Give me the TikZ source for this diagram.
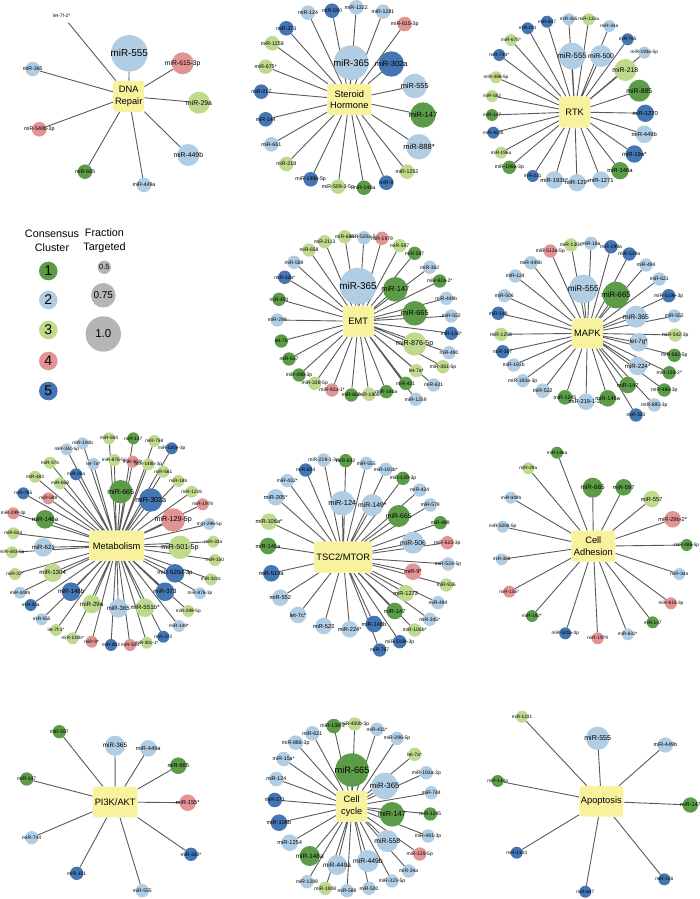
\documentclass[tikz,border=0pt]{standalone}
\usepackage{fontspec}
\setmainfont{Liberation Sans}
\pgfdeclarelayer{bg}
\pgfsetlayers{bg,main}
\definecolor{c1}{HTML}{5C9B48}
\definecolor{c2}{HTML}{B1CDE3}
\definecolor{c3}{HTML}{BFD98D}
\definecolor{c4}{HTML}{E29393}
\definecolor{c5}{HTML}{4376B3}
\definecolor{hubfill}{HTML}{F8F29E}
\definecolor{legray}{HTML}{B5B5B5}
\definecolor{edgec}{HTML}{5A5A5A}
\tikzset{
 mirc/.style={circle, inner sep=0pt, outer sep=0pt, draw=none},
 hubbox/.style={rectangle, rounded corners=3bp, fill=hubfill, inner sep=1bp, align=center, font=\fontsize{9.3bp}{11.5bp}\selectfont},
 conn/.style={draw=edgec, line width=0.9bp},
 hdr/.style={align=center, inner sep=0pt, font=\fontsize{10.8bp}{13.3bp}\selectfont},
}
\newcommand\hubn[6]{\node[hubbox, minimum width=#4bp, minimum height=#5bp] (#1) at (#2,#3) {#6};\def\curhub{#1}\def\edgelist{}}
\newcommand\mi[6]{%
 \pgfmathsetmacro\mifs{0.42*#4+2.2}%
 \pgfmathsetmacro\midiam{2*#4}%
 \node[mirc, fill=#5, minimum size=\midiam bp, font=\fontsize{\mifs bp}{\mifs bp}\selectfont] (#1) at (#2,#3) {\makebox[0pt]{#6}};
 \edef\edgelist{\edgelist (\curhub) -- (#1)}%
}
\newcommand\panelend{%
 \edef\edgecmd{\noexpand\draw[conn] \edgelist;}%
 \begin{pgfonlayer}{bg}\edgecmd\end{pgfonlayer}%
}
\newcommand\lgc[6]{%
 \pgfmathsetmacro\midiam{2*#4}%
 \node[mirc, fill=#5, minimum size=\midiam bp, font=\fontsize{#6bp}{#6bp}\selectfont] (#1) at (#2,#3) {\makebox[0pt]{\lgtext}};
}
\begin{document}
\begin{tikzpicture}[x=1bp,y=-1bp]
\useasboundingbox (0,0) rectangle (700,899);
% ---------- DNA Repair
\hubn{A}{128.7}{96.3}{31}{31}{DNA\\Repair}
\mi{A1}{129.3}{53.3}{18.3}{c2}{miR-555}
\mi{A2}{182.7}{63.3}{11}{c4}{miR-615-3p}
\mi{A3}{32.7}{69}{7.3}{c2}{miR-365}
\mi{A4}{199}{102.7}{11}{c3}{miR-29a}
\mi{A5}{39.3}{129.3}{7.3}{c4}{miR-548b-3p}
\mi{A6}{188.3}{155}{11}{c2}{miR-449b}
\mi{A7}{85}{171.7}{7.3}{c1}{miR-665}
\mi{A8}{144}{185}{7.3}{c2}{miR-449a}
\coordinate (A0) at (68.3,22.7);
\edef\edgelist{\edgelist (A) -- (A0)}
\node[inner sep=0pt, font=\fontsize{4.9bp}{5bp}\selectfont] (A0t) at (61.7,15.7) {let-7f-2*};
\panelend
% ---------- Steroid Hormone
\hubn{B}{349.3}{99.5}{44}{31}{Steroid\\Hormone}
\mi{B1}{308}{12.7}{7.3}{c2}{miR-124}
\mi{B2}{332}{10.7}{7.3}{c5}{miR-590}
\mi{B3}{356.3}{7.3}{7.3}{c2}{miR-1322}
\mi{B4}{383}{11.7}{7.3}{c2}{miR-1281}
\mi{B5}{404.7}{24}{7.3}{c4}{miR-615-3p}
\mi{B6}{286.3}{28.3}{7.3}{c5}{miR-373}
\mi{B7}{272.3}{43.3}{7.3}{c3}{miR-1258}
\mi{B8}{351.3}{62.7}{17.3}{c2}{miR-365}
\mi{B9}{391.3}{64}{12.7}{c5}{miR-302a}
\mi{B10}{265.7}{66.7}{7.3}{c3}{miR-675*}
\mi{B11}{414.7}{86}{12.3}{c2}{miR-555}
\mi{B12}{261.3}{91.7}{7.3}{c5}{miR-217}
\mi{B13}{423}{115}{12.7}{c1}{miR-147}
\mi{B14}{265.7}{119.3}{7.3}{c5}{miR-144}
\mi{B15}{419}{146.7}{12.7}{c2}{miR-888*}
\mi{B16}{271.3}{144.3}{7.3}{c2}{miR-661}
\mi{B17}{286.3}{164}{7.3}{c3}{miR-218}
\mi{B18}{407}{171.7}{7.3}{c3}{miR-1252}
\mi{B19}{310.7}{179.3}{7.3}{c5}{miR-199b-5p}
\mi{B20}{338}{186.7}{7.3}{c3}{miR-509-3-5p}
\mi{B21}{364}{187.7}{7.3}{c1}{miR-146a}
\mi{B22}{386.3}{182.7}{7.3}{c5}{miR-9}
\panelend
% ---------- RTK
\hubn{C}{574.7}{112}{31}{31}{RTK}
\mi{C1}{527.7}{28.3}{6}{c5}{miR-181}
\mi{C2}{547}{21.7}{6}{c5}{miR-647}
\mi{C3}{568.7}{19.3}{6}{c2}{miR-365}
\mi{C4}{588.7}{19.3}{6}{c3}{miR-135a}
\mi{C5}{609.3}{26}{6}{c2}{miR-34a}
\mi{C6}{627.7}{39.3}{6}{c5}{miR-765}
\mi{C7}{644.3}{52.7}{6}{c2}{miR-193a-5p}
\mi{C8}{511}{40}{6}{c3}{miR-675*}
\mi{C9}{499.3}{55}{6}{c5}{miR-744*}
\mi{C10}{572}{56}{13.3}{c2}{miR-555}
\mi{C11}{601}{56}{11}{c2}{miR-500}
\mi{C12}{625.3}{70}{11}{c3}{miR-218}
\mi{C13}{496}{77.3}{6}{c3}{miR-486-5p}
\mi{C14}{639.3}{90.7}{11}{c1}{miR-885}
\mi{C15}{492}{96}{6}{c3}{miR-582}
\mi{C16}{492}{115}{6}{c1}{miR-147}
\mi{C17}{645.3}{113.3}{8.7}{c5}{miR-1270}
\mi{C18}{493.3}{132.7}{6}{c5}{miR-302b}
\mi{C19}{644.3}{134.3}{8.7}{c2}{miR-449b}
\mi{C20}{501}{152.7}{6}{c3}{miR-196a}
\mi{C21}{634.3}{154}{8.7}{c5}{miR-19a*}
\mi{C22}{620}{170.7}{8.7}{c1}{miR-146a}
\mi{C23}{509.3}{167.3}{6.7}{c1}{miR-199a-3p}
\mi{C24}{532.7}{176}{6}{c5}{miR-221}
\mi{C25}{554.3}{180}{8.7}{c2}{miR-193b*}
\mi{C26}{577}{182.7}{8.7}{c2}{miR-129*}
\mi{C27}{601}{180}{8.7}{c2}{miR-1271}
\panelend
% ---------- Legend
\node[hdr] (Lh1) at (52,240.7) {Consensus\\Cluster};
\node[hdr] (Lh2) at (104.5,240.7) {Fraction\\Targeted};
\def\lgtext{1}\lgc{L1}{48.3}{271}{9.3}{c1}{14}
\def\lgtext{2}\lgc{L2}{48.3}{300}{9.3}{c2}{14}
\def\lgtext{3}\lgc{L3}{48.3}{330}{9.3}{c3}{14}
\def\lgtext{4}\lgc{L4}{48.3}{361}{9.3}{c4}{14}
\def\lgtext{5}\lgc{L5}{48.3}{391}{9.3}{c5}{14}
\def\lgtext{0.5}\lgc{G1}{104.3}{267.3}{6.7}{legray}{7.5}
\def\lgtext{0.75}\lgc{G2}{103.3}{295.3}{12.3}{legray}{10}
\def\lgtext{1.0}\lgc{G3}{103.3}{334}{17.7}{legray}{11.5}
% ---------- EMT
\hubn{E}{358.3}{321.3}{31}{31}{EMT}
\mi{E1}{324.7}{241.7}{6.7}{c3}{miR-2113}
\mi{E2}{344.7}{236.7}{6.7}{c3}{miR-659}
\mi{E3}{364}{237.7}{6.7}{c2}{miR-520a-5p}
\mi{E4}{382}{238.3}{6.7}{c4}{miR-1979}
\mi{E5}{399.7}{245.7}{6.7}{c3}{miR-597}
\mi{E6}{309}{250}{6.7}{c3}{miR-658}
\mi{E7}{414.7}{253.3}{6.7}{c1}{miR-587}
\mi{E8}{294}{262.3}{6.7}{c2}{miR-589}
\mi{E9}{429.7}{267.3}{6.7}{c2}{miR-362}
\mi{E10}{284.7}{277.3}{6.7}{c5}{miR-33a*}
\mi{E11}{358}{286}{18.3}{c2}{miR-365}
\mi{E12}{395.3}{289.3}{12.3}{c1}{miR-147}
\mi{E13}{439.7}{281}{6.7}{c1}{miR-92a-2*}
\mi{E14}{279}{299.3}{6.7}{c1}{miR-450}
\mi{E15}{446.3}{298.3}{6.7}{c2}{miR-449b}
\mi{E16}{414.7}{313.3}{12.3}{c1}{miR-665}
\mi{E17}{277.3}{320}{6.7}{c2}{miR-299}
\mi{E18}{451.3}{316}{6.7}{c2}{miR-552}
\mi{E19}{451.3}{333.3}{6.7}{c5}{miR-136*}
\mi{E20}{281.3}{341}{6.7}{c1}{let-7b}
\mi{E21}{414.7}{344}{11.7}{c3}{miR-876-5p}
\mi{E22}{449}{352.7}{6.7}{c2}{miR-490}
\mi{E23}{289}{359}{6.7}{c1}{miR-617}
\mi{E24}{416.3}{370.7}{6.7}{c3}{let-7a*}
\mi{E25}{443}{366.7}{6.7}{c3}{miR-361-5p}
\mi{E26}{299}{375}{6.7}{c1}{miR-486-3p}
\mi{E27}{314.7}{383.3}{6.7}{c3}{miR-338-5p}
\mi{E28}{405.7}{383.3}{6.7}{c1}{miR-421}
\mi{E29}{433.7}{385}{6.7}{c2}{miR-621}
\mi{E30}{332}{390}{6.7}{c4}{miR-92a-1*}
\mi{E31}{351.3}{395}{6.7}{c1}{miR-660}
\mi{E32}{369}{394.3}{6.7}{c3}{miR-1908}
\mi{E33}{386.3}{391.7}{6.7}{c1}{miR-146a}
\mi{E34}{415.7}{399.3}{6.7}{c2}{miR-1259}
\panelend
% ---------- MAPK
\hubn{F}{587.3}{333.3}{31}{30}{MAPK}
\mi{F1}{550.3}{251}{6.7}{c4}{miR-513a-5p}
\mi{F2}{571}{245}{6.7}{c3}{miR-1304}
\mi{F3}{591}{243.3}{6.7}{c2}{miR-18a}
\mi{F4}{611}{246.7}{6.7}{c5}{miR-199a}
\mi{F5}{629.3}{254}{6.7}{c5}{miR-519a}
\mi{F6}{531}{262.7}{6.7}{c2}{miR-449b}
\mi{F7}{646}{265}{6.7}{c2}{miR-494}
\mi{F8}{515.3}{276}{6.7}{c2}{miR-124}
\mi{F9}{659.3}{279}{6.7}{c2}{miR-621}
\mi{F10}{583.3}{289}{14.3}{c2}{miR-555}
\mi{F11}{616}{295}{13.3}{c1}{miR-665}
\mi{F12}{504.3}{295.7}{6.7}{c2}{miR-506}
\mi{F13}{668.7}{295.7}{6.7}{c5}{miR-519e-3p}
\mi{F14}{498.3}{313.3}{6.7}{c5}{miR-148}
\mi{F15}{636}{316.7}{11}{c2}{miR-365}
\mi{F16}{674.3}{316}{6.7}{c2}{miR-552}
\mi{F17}{501}{334.3}{6.7}{c3}{miR-1258}
\mi{F18}{638.7}{342.3}{9.3}{c2}{let-7g*}
\mi{F19}{675.3}{335}{6.7}{c3}{miR-542-3p}
\mi{F20}{502.7}{351.7}{6.7}{c5}{miR-367}
\mi{F21}{674.3}{355.3}{6.7}{c1}{miR-582-5p}
\mi{F22}{513.7}{365}{6.7}{c2}{miR-193b}
\mi{F23}{637.7}{366}{9.3}{c2}{miR-224*}
\mi{F24}{669.3}{372.7}{6.7}{c1}{miR-138-2*}
\mi{F25}{522.7}{380.7}{6.7}{c2}{miR-193a-3p}
\mi{F26}{627.7}{385}{8.3}{c1}{miR-147}
\mi{F27}{664.3}{390}{6.7}{c1}{miR-486-3p}
\mi{F28}{542.7}{390.7}{7.3}{c2}{miR-522}
\mi{F29}{565}{397.3}{7.3}{c1}{miR-1245}
\mi{F30}{586}{401.7}{8.3}{c2}{miR-219-1-3p}
\mi{F31}{607.7}{398.3}{8.3}{c1}{miR-146a}
\mi{F32}{654.3}{405}{6.7}{c2}{miR-885-3p}
\mi{F33}{636}{415}{6.7}{c5}{miR-320}
\panelend
% ---------- Metabolism
\hubn{M}{116.7}{545.7}{55}{30}{Metabolism}
\mi{M1}{109}{438.3}{6}{c3}{miR-584}
\mi{M2}{133.3}{438.3}{6}{c1}{miR-147}
\mi{M3}{154.3}{441}{6}{c3}{miR-758}
\mi{M4}{171.7}{448.3}{6}{c5}{miR-520e-3p}
\mi{M5}{82.7}{443.3}{6}{c2}{miR-193b}
\mi{M6}{66.7}{449.3}{6}{c2}{miR-34c-5p}
\mi{M7}{93.3}{464}{6}{c2}{let-7a*}
\mi{M8}{114.3}{460}{6}{c3}{miR-876-5p}
\mi{M9}{132.7}{461.7}{6}{c4}{miR-363*}
\mi{M10}{148.3}{464.3}{6}{c3}{miR-148b-3p}
\mi{M11}{163.3}{471.7}{6}{c3}{miR-561}
\mi{M12}{50}{462.7}{6}{c3}{miR-376}
\mi{M13}{76}{474.3}{6}{c5}{miR-26a}
\mi{M14}{35}{476.7}{6}{c3}{miR-483}
\mi{M15}{60}{483.3}{6}{c3}{miR-659}
\mi{M16}{178.3}{481}{6}{c3}{miR-18b}
\mi{M17}{120.7}{491.7}{11.7}{c1}{miR-665}
\mi{M18}{150.7}{500}{11.7}{c5}{miR-302a}
\mi{M19}{191.7}{491.7}{6}{c3}{miR-1226}
\mi{M20}{23.3}{493.3}{6}{c5}{miR-765}
\mi{M21}{48.3}{498.3}{6}{c4}{miR-598}
\mi{M22}{202.7}{504.3}{6}{c4}{miR-1978}
\mi{M23}{13.3}{513.3}{6}{c4}{miR-299-3p}
\mi{M24}{45}{519.3}{9.3}{c1}{miR-146a}
\mi{M25}{173.3}{520}{11.7}{c4}{miR-129-5p}
\mi{M26}{209.3}{524}{6}{c2}{miR-296-5p}
\mi{M27}{13.3}{533.3}{6}{c3}{miR-634}
\mi{M28}{43.3}{547.3}{9.3}{c2}{miR-621}
\mi{M29}{180}{547.3}{11.7}{c3}{miR-501-5p}
\mi{M30}{213.3}{541.7}{6}{c3}{miR-33a}
\mi{M31}{12}{552.3}{6}{c3}{miR-483-5p}
\mi{M32}{215}{560}{6}{c3}{miR-150}
\mi{M33}{52.7}{572.7}{9.3}{c3}{miR-1304}
\mi{M34}{175}{573.3}{9.3}{c5}{miR-520d-3p}
\mi{M35}{15}{574}{6}{c3}{miR-32*}
\mi{M36}{211}{579.3}{6}{c3}{miR-320c}
\mi{M37}{20}{592.7}{6}{c2}{miR-449b}
\mi{M38}{71}{591.7}{9.3}{c5}{miR-148b}
\mi{M39}{165}{591.7}{9.3}{c5}{miR-373}
\mi{M40}{200}{593.3}{6}{c2}{miR-876-3p}
\mi{M41}{30.7}{605}{6}{c5}{miR-30a}
\mi{M42}{91.7}{604}{9.3}{c3}{miR-29a}
\mi{M43}{118.3}{608.3}{9.3}{c2}{miR-365}
\mi{M44}{145}{607.7}{9.3}{c3}{miR-551b*}
\mi{M45}{188.3}{611}{6}{c3}{miR-299-5p}
\mi{M46}{41.7}{619.3}{6}{c2}{miR-555}
\mi{M47}{56}{630}{6}{c3}{let-7f-1*}
\mi{M48}{179}{626}{6}{c2}{miR-149*}
\mi{M49}{72.7}{638.3}{6}{c3}{miR-130b*}
\mi{M50}{163.3}{636.7}{6}{c5}{miR-372}
\mi{M51}{91.7}{641.7}{6}{c4}{miR-9*}
\mi{M52}{146.7}{642.7}{6}{c3}{miR-30c-1*}
\mi{M53}{111}{645}{6}{c5}{miR-892}
\mi{M54}{130}{645}{6}{c4}{miR-508}
\panelend
% ---------- TSC2/MTOR
\hubn{T}{343.2}{557.2}{58}{31}{TSC2/MTOR}
\mi{T1}{323.7}{460}{6.7}{c2}{miR-219-1-3p}
\mi{T2}{345.7}{460.7}{6.7}{c1}{miR-632}
\mi{T3}{305.7}{470}{6.7}{c5}{miR-604}
\mi{T4}{366.3}{463.3}{6.7}{c2}{miR-555}
\mi{T5}{385.7}{469.3}{6.7}{c2}{miR-193b*}
\mi{T6}{287.3}{480.7}{6.7}{c2}{miR-432*}
\mi{T7}{403}{478.3}{6.7}{c1}{miR-129-3p}
\mi{T8}{419.7}{490}{6.7}{c2}{miR-424}
\mi{T9}{275.7}{497.3}{8.3}{c2}{miR-205*}
\mi{T10}{342.3}{503.3}{12.3}{c2}{miR-124}
\mi{T11}{372.3}{505}{11}{c2}{miR-149*}
\mi{T12}{430.3}{505}{6.7}{c2}{miR-579}
\mi{T13}{398.7}{516}{11}{c1}{miR-665}
\mi{T14}{269}{521.7}{8.3}{c3}{miR-106a*}
\mi{T15}{440.3}{522.7}{6.7}{c1}{miR-489}
\mi{T16}{413}{542.7}{11}{c2}{miR-506}
\mi{T17}{268}{546}{8.3}{c1}{miR-146a}
\mi{T18}{447.3}{542.7}{6.7}{c4}{miR-615-3p}
\mi{T19}{271.3}{573.3}{8.3}{c5}{miR-519a}
\mi{T20}{448}{564}{6.7}{c2}{miR-524-5p}
\mi{T21}{413}{571.7}{8.3}{c4}{miR-9*}
\mi{T22}{446.3}{585}{6.7}{c3}{miR-936}
\mi{T23}{280.3}{597.7}{8.3}{c2}{miR-552}
\mi{T24}{405.7}{593.3}{8.3}{c3}{miR-1272}
\mi{T25}{438}{602.7}{6.7}{c2}{miR-494}
\mi{T26}{298}{615}{8.3}{c2}{let-7c*}
\mi{T27}{394.7}{611}{8.3}{c1}{miR-147}
\mi{T28}{429.7}{619.3}{6.7}{c2}{miR-345*}
\mi{T29}{323.7}{626}{8.3}{c2}{miR-522}
\mi{T30}{349.7}{629.3}{8.3}{c2}{miR-224*}
\mi{T31}{374}{624}{8.3}{c5}{miR-148b}
\mi{T32}{414.7}{630}{6.7}{c3}{miR-106b*}
\mi{T33}{399.7}{641.7}{6.7}{c5}{miR-519e-3p}
\mi{T34}{379.7}{650}{6.7}{c5}{miR-767}
\panelend
% ---------- Cell Adhesion
\hubn{H}{593.3}{546.2}{44}{31}{Cell\\Adhesion}
\mi{H1}{557}{452.7}{6}{c1}{miR-146a}
\mi{H2}{528.3}{468.3}{6}{c3}{miR-29a}
\mi{H3}{592.7}{487.7}{10}{c1}{miR-665}
\mi{H4}{623.7}{487.3}{8.3}{c1}{miR-597}
\mi{H5}{651.7}{499}{8.3}{c3}{miR-557}
\mi{H6}{511}{497.7}{6}{c2}{miR-449b}
\mi{H7}{672.7}{519.3}{8.3}{c4}{miR-29b-2*}
\mi{H8}{502.7}{526.7}{6}{c2}{miR-520d-5p}
\mi{H9}{686.7}{545}{6}{c1}{miR-486-5p}
\mi{H10}{501.7}{559.3}{6}{c2}{miR-365}
\mi{H11}{679.3}{574}{6}{c2}{miR-34a}
\mi{H12}{509.3}{591.7}{6}{c4}{miR-155*}
\mi{H13}{671}{603.3}{6}{c4}{miR-615-3p}
\mi{H14}{532}{616}{6}{c1}{miR-192*}
\mi{H15}{652.7}{622.3}{6}{c1}{miR-147}
\mi{H16}{565.3}{633.3}{6}{c5}{miR-520a-3p}
\mi{H17}{597.7}{638.3}{6}{c4}{miR-1979}
\mi{H18}{627.7}{634.3}{6}{c2}{miR-632*}
\panelend
% ---------- PI3K/AKT
\hubn{P}{115.2}{802}{45}{30.7}{PI3K/AKT}
\mi{P1}{59.3}{731.7}{6.7}{c1}{miR-597}
\mi{P2}{115}{745.7}{10}{c2}{miR-365}
\mi{P3}{148.3}{748.3}{8.3}{c2}{miR-449a}
\mi{P4}{178.3}{765.7}{8.3}{c1}{miR-665}
\mi{P5}{26.7}{779}{6.7}{c1}{miR-147}
\mi{P6}{187.7}{802.7}{8.3}{c4}{miR-155*}
\mi{P7}{31.7}{837.7}{6.7}{c2}{miR-744}
\mi{P8}{191}{854.3}{6.7}{c5}{miR-330*}
\mi{P9}{76.7}{873.3}{6.7}{c5}{miR-101}
\mi{P10}{142.3}{890.7}{6.7}{c2}{miR-555}
\panelend
% ---------- Cell cycle
\hubn{K}{351.7}{806.3}{31}{31}{Cell\\cycle}
\mi{K1}{333.7}{726}{7.3}{c1}{miR-138-2*}
\mi{K2}{354.7}{724}{6.7}{c3}{miR-450b-3p}
\mi{K3}{377}{729.3}{6.7}{c2}{miR-431*}
\mi{K4}{312.3}{733.3}{7.3}{c2}{miR-621}
\mi{K5}{397}{738.3}{6.7}{c2}{miR-296-5p}
\mi{K6}{295.7}{742.7}{7.3}{c2}{miR-886-3p}
\mi{K7}{414.7}{754.3}{6.7}{c3}{let-7a*}
\mi{K8}{283.7}{759}{7.3}{c2}{miR-15a*}
\mi{K9}{352}{770}{16.7}{c1}{miR-665}
\mi{K10}{426.3}{772.7}{6.7}{c2}{miR-193a-3p}
\mi{K11}{276.3}{779}{7.3}{c2}{miR-124}
\mi{K12}{384.7}{786}{13.3}{c2}{miR-365}
\mi{K13}{431.3}{792.7}{6.7}{c2}{miR-744}
\mi{K14}{274.7}{800}{7.3}{c5}{miR-373}
\mi{K15}{392}{814.3}{12.3}{c1}{miR-147}
\mi{K16}{430.3}{814}{6.7}{c1}{miR-1245}
\mi{K17}{279}{822.7}{8.3}{c5}{miR-106b}
\mi{K18}{428}{836}{6.7}{c2}{miR-491-3p}
\mi{K19}{289.7}{842.7}{8.3}{c2}{miR-1254}
\mi{K20}{387.3}{841}{11}{c2}{miR-558}
\mi{K21}{309.7}{856}{10}{c1}{miR-148a}
\mi{K22}{337}{865}{10}{c2}{miR-449a}
\mi{K23}{368}{861}{11}{c2}{miR-449b}
\mi{K24}{419.7}{854}{6.7}{c4}{miR-129-5p}
\mi{K25}{408.7}{871}{6.7}{c2}{miR-34a}
\mi{K26}{307}{881.7}{6.7}{c2}{miR-1289}
\mi{K27}{325.3}{888.3}{6.7}{c3}{miR-1908}
\mi{K28}{347}{890.7}{6.7}{c2}{miR-589}
\mi{K29}{369}{888.3}{6.7}{c2}{miR-500}
\mi{K30}{392}{881}{6.7}{c2}{miR-323-5p}
\panelend
% ---------- Apoptosis
\hubn{Q}{601.3}{801.3}{44}{30.7}{Apoptosis}
\mi{Q1}{522}{716.7}{6}{c3}{miR-1231}
\mi{Q2}{597.7}{738.3}{11.7}{c2}{miR-555}
\mi{Q3}{665.3}{745}{7.7}{c2}{miR-449b}
\mi{Q4}{497.7}{781}{6}{c1}{miR-148a}
\mi{Q5}{690.3}{805}{7.7}{c1}{miR-147}
\mi{Q6}{516.7}{852.7}{6}{c5}{miR-1303}
\mi{Q7}{585.3}{891.7}{6}{c5}{miR-647}
\mi{Q8}{664.3}{879.3}{6}{c5}{miR-126}
\panelend
\end{tikzpicture}
\end{document}
